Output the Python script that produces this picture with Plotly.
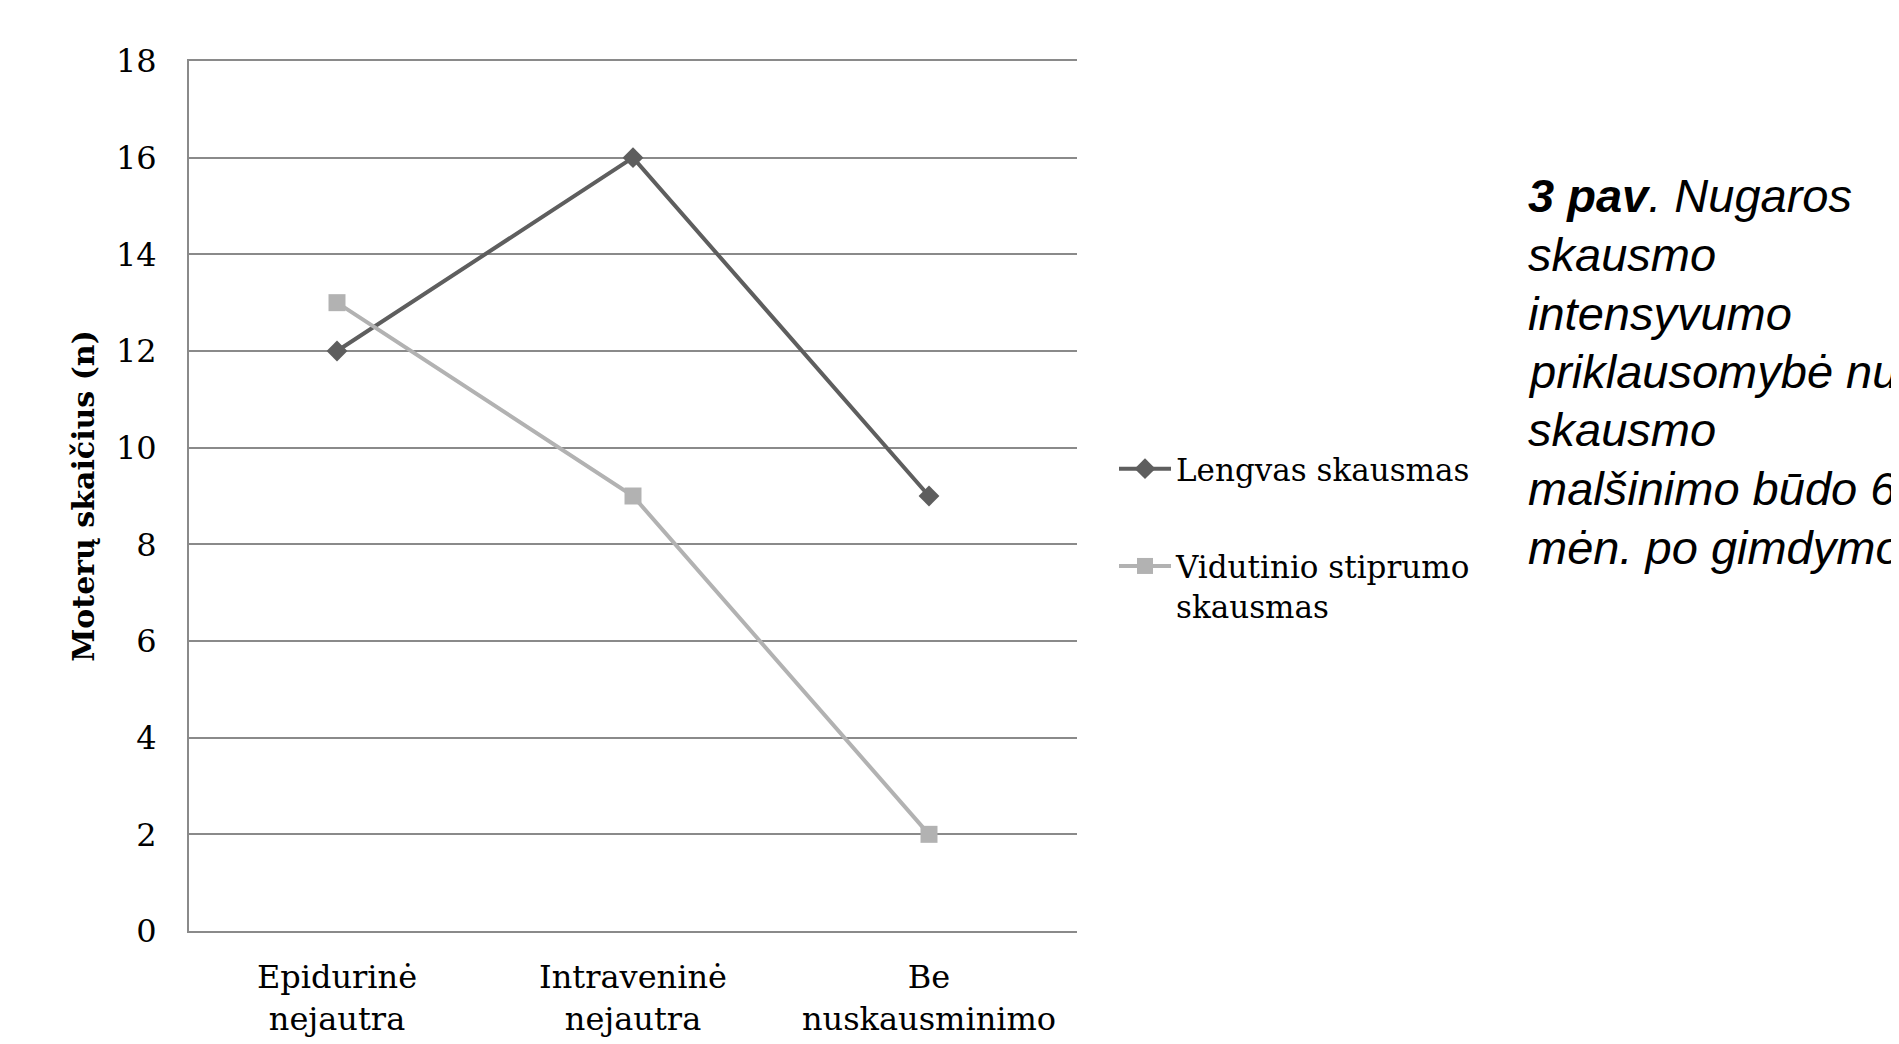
import plotly.graph_objects as go

categories = ["Epidurinė<br>nejautra", "Intraveninė<br>nejautra", "Be<br>nuskausminimo"]
lengvas = [12, 16, 9]
vidutinio = [13, 9, 2]
series_names = ["Lengvas skausmas", "Vidutinio stiprumo<br>skausmas"]
y_ticks = [0, 2, 4, 6, 8, 10, 12, 14, 16, 18]
caption_lines = [
    "<b>3 pav</b>. Nugaros",
    "skausmo",
    "intensyvumo",
    "priklausomybė nuo",
    "skausmo",
    "malšinimo būdo 6",
    "mėn. po gimdymo",
]

W, H = 1899, 1044
OFF = 8  # browser default body margin
# plot area in screen pixels
PX0, PX1, PY0, PY1 = 189, 1077, 61, 931
L = PX0 - OFF
T = PY0 - OFF
R = W - (PX1 - OFF)
B = H - (PY1 - OFF)
plot_w = PX1 - PX0
plot_h = PY1 - PY0

SERIF = "DejaVu Serif"
GRID = "#8a8a8a"

def px(sx):
    return (sx - PX0) / plot_w

def py(sy):
    return (PY1 - sy) / plot_h

fig = go.Figure()
fig.add_trace(go.Scatter(
    x=categories, y=lengvas, name=series_names[0], mode="lines+markers",
    line=dict(color="#5e5e5e", width=4),
    marker=dict(symbol="diamond", size=16, color="#5e5e5e"),
    legendgroup="a",
))
fig.add_trace(go.Scatter(
    x=categories, y=vidutinio, name=series_names[1], mode="lines+markers",
    line=dict(color="#b2b2b2", width=4),
    marker=dict(symbol="square", size=17, color="#b2b2b2"),
    legendgroup="b",
))

for i, txt in enumerate(caption_lines):
    baseline = 216 + 58.5 * i
    fig.add_annotation(
        text=txt, xref="paper", yref="paper",
        x=px(1526), y=py(baseline - 20),
        xanchor="left", yanchor="middle", showarrow=False, align="left",
        font=dict(family="Liberation Sans", size=47, color="#000000", style="italic"),
    )

fig.update_layout(
    width=W, height=H,
    margin=dict(l=L, r=R, t=T, b=B, pad=0, autoexpand=False),
    paper_bgcolor="white", plot_bgcolor="white",
    font=dict(family=SERIF, size=32, color="#000000"),
    showlegend=True,
    legend=dict(
        x=px(1114), y=py(442), xanchor="left", yanchor="top",
        font=dict(family=SERIF, size=31, color="#000000"),
        traceorder="grouped", tracegroupgap=54, valign="top",
        itemwidth=52, bgcolor="rgba(0,0,0,0)",
    ),
    xaxis=dict(
        type="category", range=[-0.5, 2.5], showgrid=False,
        showline=True, mirror=True, linecolor=GRID, linewidth=2,
        ticks="", zeroline=False, automargin=False, ticklabelstandoff=17,
        tickfont=dict(family=SERIF, size=32),
    ),
    yaxis=dict(
        range=[0, 18], tickvals=y_ticks, showgrid=True, gridcolor=GRID, gridwidth=2,
        showline=True, linecolor=GRID, linewidth=2, zeroline=False,
        ticks="", ticklabelstandoff=24, automargin=False,
        tickfont=dict(family=SERIF, size=32),
        title=dict(text="<b>Moterų skaičius (n)</b>", standoff=12,
                   font=dict(family=SERIF, size=30)),
    ),
)

fig.write_html("out.html")
